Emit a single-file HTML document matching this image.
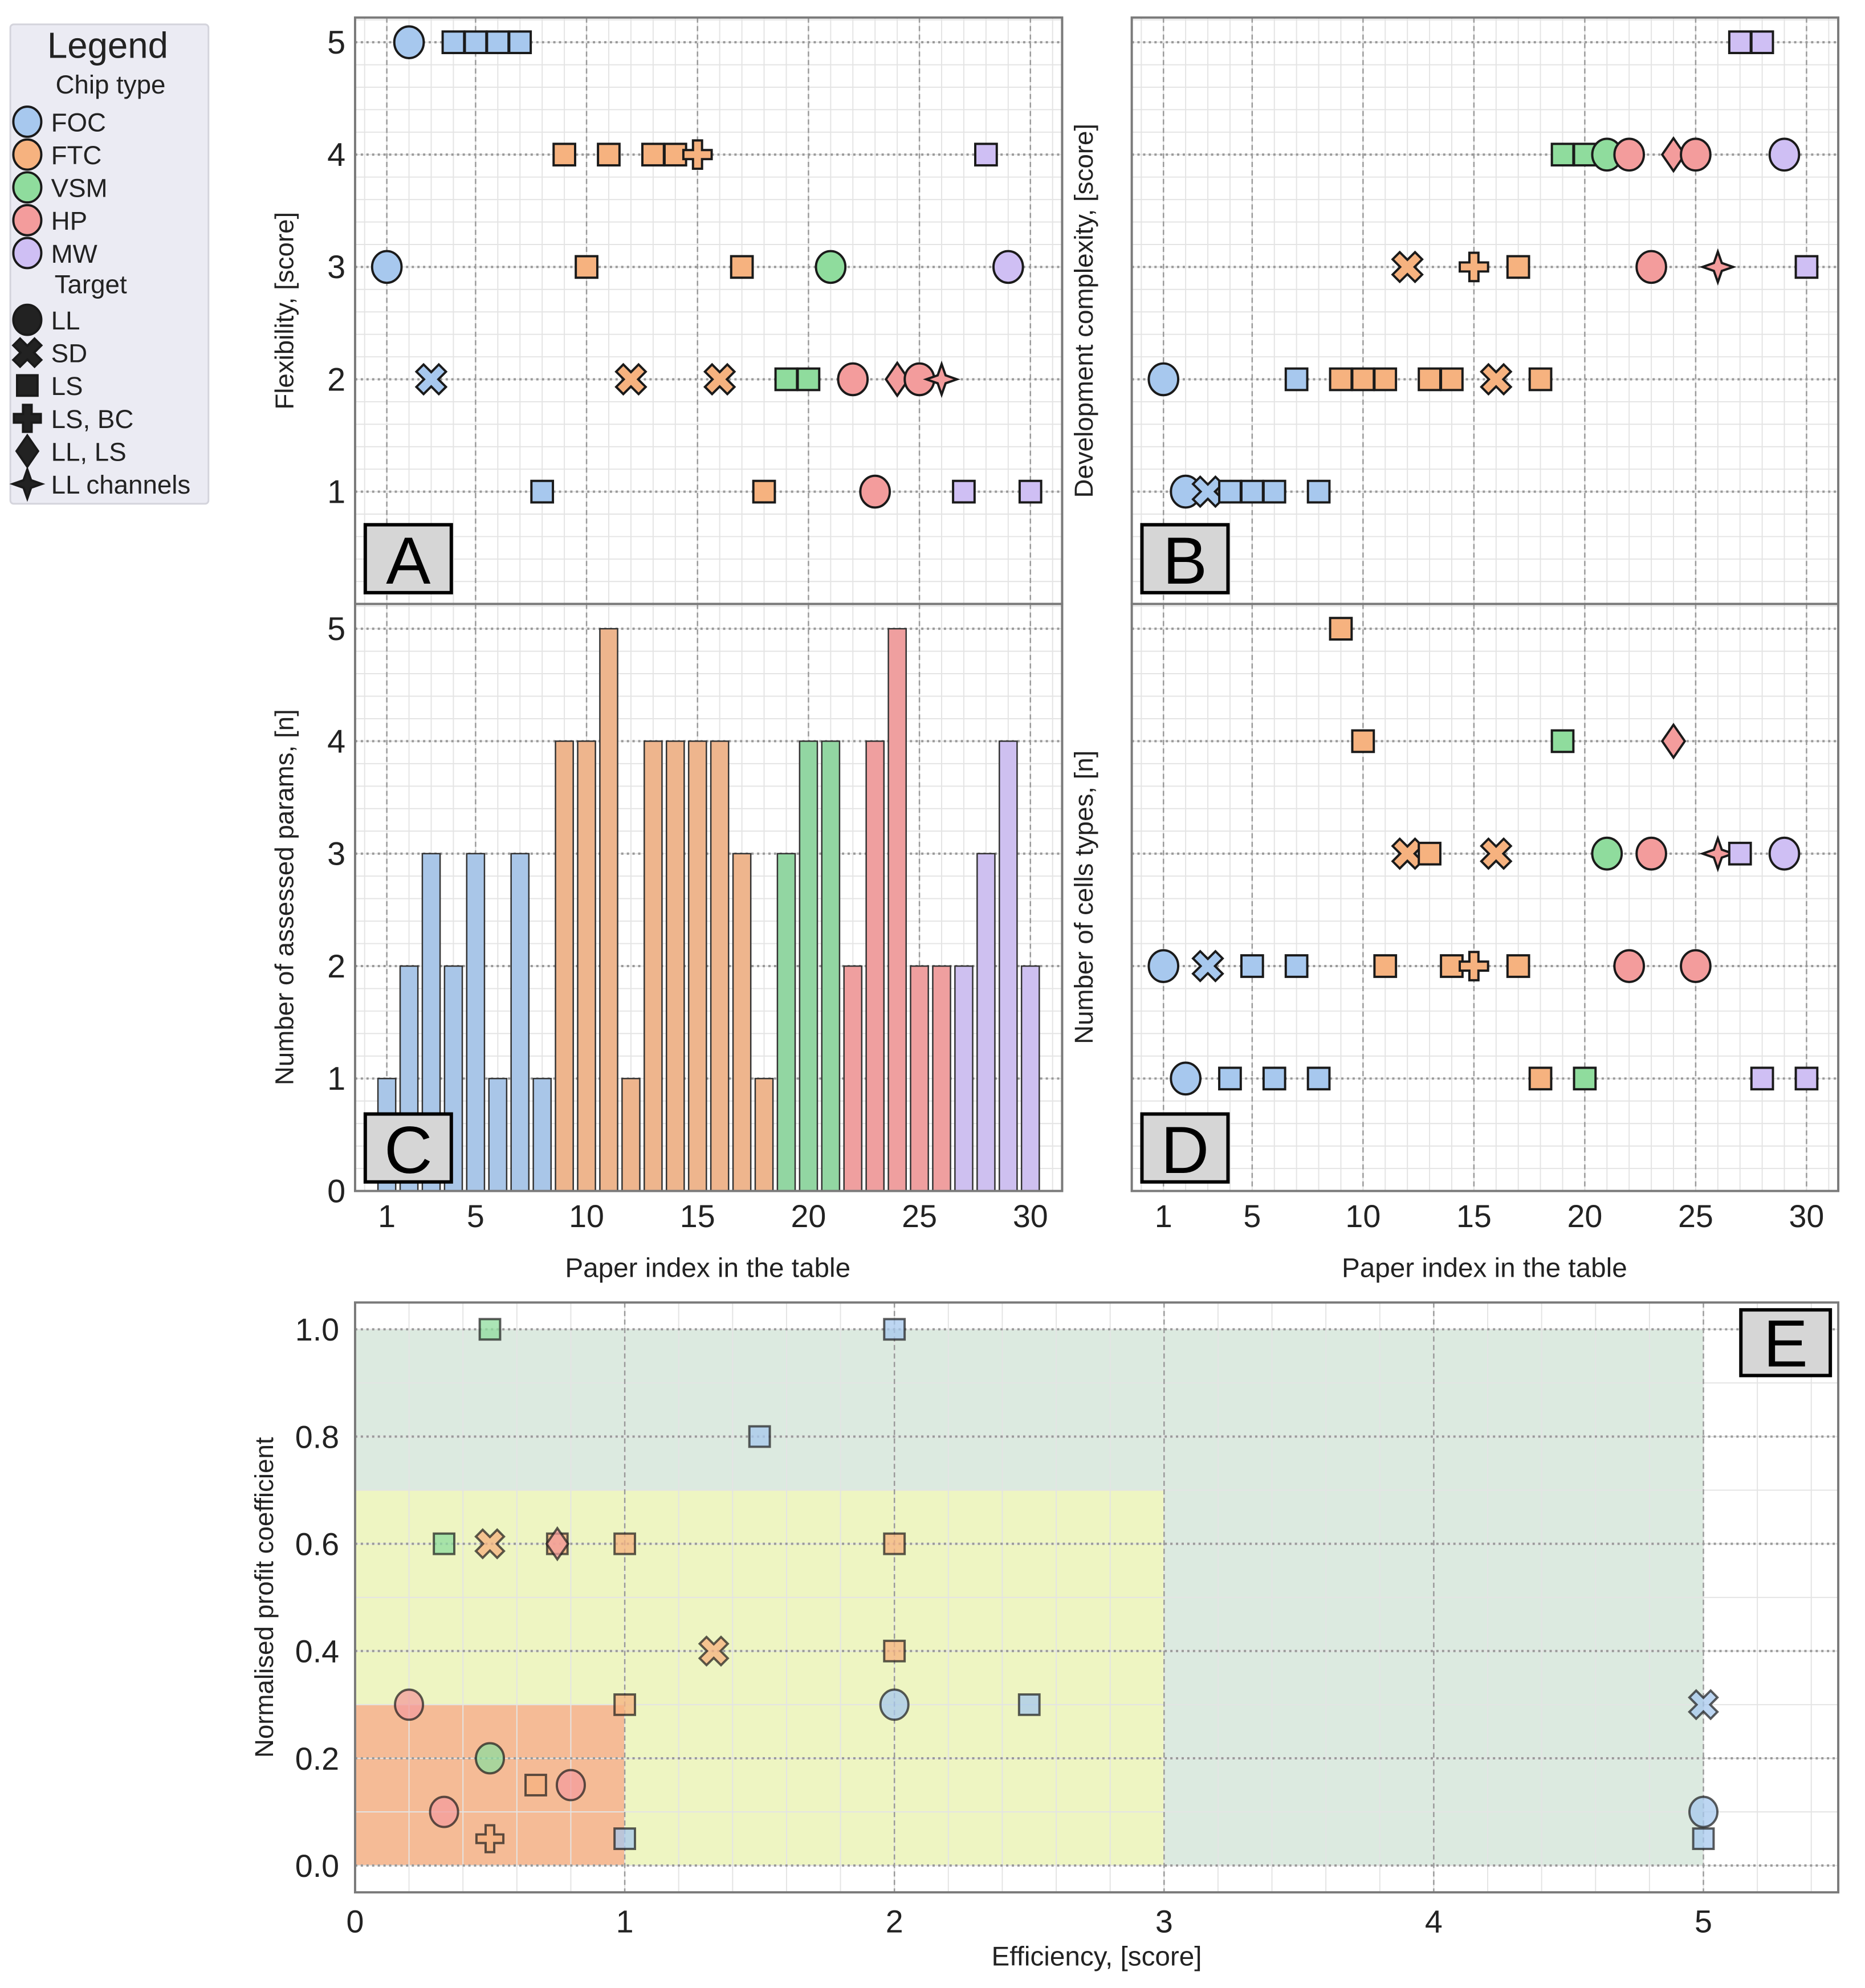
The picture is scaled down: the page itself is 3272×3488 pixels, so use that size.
<!DOCTYPE html>
<html><head><meta charset="utf-8"><style>
html,body{margin:0;padding:0;background:#fff}
svg{display:block;font-family:"Liberation Sans",Arial,sans-serif}
</style></head><body>
<svg id="fig" width="3272" height="3488" viewBox="0 0 3294 3512" xmlns="http://www.w3.org/2000/svg"></svg>
<script>
// ---------- data ----------
const paperIndex = [1,2,3,4,5,6,7,8,9,10,11,12,13,14,15,16,17,18,19,20,21,22,23,24,25,26,27,28,29,30];
const chipType = ["FOC","FOC","FOC","FOC","FOC","FOC","FOC","FOC","FTC","FTC","FTC","FTC","FTC","FTC","FTC","FTC","FTC","FTC","VSM","VSM","VSM","HP","HP","HP","HP","HP","MW","MW","MW","MW"];
const target = ["LL","LL","SD","LS","LS","LS","LS","LS","LS","LS","LS","SD","LS","LS","LSBC","SD","LS","LS","LS","LS","LL","LL","LL","LLLS","LL","LLCH","LS","LS","LL","LS"];
const flexibility = [3,5,2,5,5,5,5,1,4,3,4,2,4,4,4,2,3,1,2,2,3,2,1,2,2,2,1,4,3,1];
const complexity = [2,1,1,1,1,1,2,1,2,2,2,3,2,2,3,2,3,2,4,4,4,4,3,4,4,3,5,5,4,3];
const assessedParams = [1,2,3,2,3,1,3,1,4,4,5,1,4,4,4,4,3,1,3,4,4,2,4,5,2,2,2,3,4,2];
const cellTypes = [2,1,2,1,2,1,2,1,5,4,2,3,3,2,2,3,2,1,4,1,3,2,3,4,2,3,3,1,3,1];
const effX = [0.5,2,1.5,0.33,0.5,0.75,0.75,1,2,1.33,2,0.2,1,2,2.5,5,0.5,0.67,0.8,0.33,0.5,1,5,5];
const effY = [1.0,1.0,0.8,0.6,0.6,0.6,0.6,0.6,0.6,0.4,0.4,0.3,0.3,0.3,0.3,0.3,0.2,0.15,0.15,0.1,0.05,0.05,0.1,0.05];
const effChip = ["VSM","FOC","FOC","VSM","FTC","FTC","HP","FTC","FTC","FTC","FTC","HP","FTC","FOC","FOC","FOC","VSM","FTC","HP","HP","FTC","FOC","FOC","FOC"];
const effTarget = ["LS","LS","LS","LS","SD","LS","LLLS","LS","LS","SD","LS","LL","LS","LL","LS","SD","LL","LS","LL","LL","LSBC","LS","LL","LS"];
const xTicks = [1,5,10,15,20,25,30];
const yTicks = [0,1,2,3,4,5];
const eXTicks = [0,1,2,3,4,5];
const eYTicks = [0.0,0.2,0.4,0.6,0.8,1.0];

const COL = {FOC:"#a7c8ee",FTC:"#f6b27f",VSM:"#8fdc9d",HP:"#f39c9c",MW:"#cfbff4"};
const BARCOL = {FOC:"#a9c6e8",FTC:"#eeb58d",VSM:"#92d6a2",HP:"#ef9f9f",MW:"#cec0f0"};
const NS="http://www.w3.org/2000/svg";
const svg=document.getElementById('fig');
function el(tag,attrs,parent){const e=document.createElementNS(NS,tag);for(const k in attrs)e.setAttribute(k,attrs[k]);(parent||svg).appendChild(e);return e;}

function marker(g,type,cx,cy,fill,op,sc){
  sc=sc||1;let e;
  const st={fill:fill,stroke:"#1a1a1a","stroke-width":4,"fill-opacity":op};
  if(type==="LL"){e=el('ellipse',Object.assign({cx:cx,cy:cy,rx:26*sc,ry:28*sc},st),g);}
  else if(type==="LS"){const s=19*sc;e=el('rect',Object.assign({x:cx-s,y:cy-s,width:2*s,height:2*s},st),g);}
  else if(type==="SD"||type==="LSBC"){
    const a=25*sc,w=8*sc;
    const base=[[-w,-a],[w,-a],[w,-w],[a,-w],[a,w],[w,w],[w,a],[-w,a],[-w,w],[-a,w],[-a,-w],[-w,-w]];
    const rot=type==="SD"?Math.PI/4:0;
    const sc2=type==="SD"?1.12:1;
    const pts=base.map(p=>{const x=p[0]*sc2,y=p[1]*sc2;return [(cx+x*Math.cos(rot)-y*Math.sin(rot)).toFixed(1),(cy+x*Math.sin(rot)+y*Math.cos(rot)).toFixed(1)].join(',');});
    e=el('polygon',Object.assign({points:pts.join(' ')},st),g);
  }
  else if(type==="LLLS"){const w=20*sc,h=29*sc;e=el('polygon',Object.assign({points:`${cx},${cy-h} ${cx+w},${cy} ${cx},${cy+h} ${cx-w},${cy}`},st),g);}
  else if(type==="LLCH"){const a=27*sc,b=7*sc;e=el('polygon',Object.assign({points:`${cx},${cy-a} ${cx+b},${cy-b} ${cx+a},${cy} ${cx+b},${cy+b} ${cx},${cy+a} ${cx-b},${cy+b} ${cx-a},${cy} ${cx-b},${cy-b}`},st),g);}
  return e;
}

function panel(name,L,R,T,B,xmin,xmax,ymin,ymax,opts){
  const g=el('g',{});
  
  
  const X=v=>L+(v-xmin)/(xmax-xmin)*(R-L);
  const Y=v=>B-(v-ymin)/(ymax-ymin)*(B-T);
  el('rect',{x:L,y:T,width:R-L,height:B-T,fill:"#fff"},g);
  if(opts.bg)opts.bg(g,X,Y);
  for(let v=opts.mxStart;v<=xmax+1e-9;v+=opts.mxStep){if(v<xmin)continue;el('line',{x1:X(v),x2:X(v),y1:T,y2:B,stroke:"#e4e4e4","stroke-width":2},g);}
  for(let v=opts.myStart;v<=ymax+1e-9;v+=opts.myStep){if(v<ymin)continue;el('line',{x1:L,x2:R,y1:Y(v),y2:Y(v),stroke:"#e4e4e4","stroke-width":2},g);}
  opts.xt.forEach(v=>el('line',{x1:X(v),x2:X(v),y1:T,y2:B,stroke:"#9a9a9a","stroke-width":2.5,"stroke-dasharray":"9,6"},g));
  opts.yt.forEach(v=>el('line',{x1:L,x2:R,y1:Y(v),y2:Y(v),stroke:"#9a9a9a","stroke-width":4,"stroke-dasharray":"4,6"},g));
  return {g,X,Y};
}
function frame(g,L,R,T,B){el('rect',{x:L,y:T,width:R-L,height:B-T,fill:"none",stroke:"#7a7a7a","stroke-width":4},g);}
function letterBox(L,T,W,H,txt,name){
  const g=el('g',{});
  
  
  el('rect',{x:L,y:T,width:W,height:H,fill:"#d6d6d6",stroke:"#000","stroke-width":6},g);
  const t=el('text',{x:L+W/2,y:T+H-16,"text-anchor":"middle","font-size":118,fill:"#000"},g);t.textContent=txt;
}
function txt(x,y,s,size,anchor,rot,name){
  const t=el('text',{x:x,y:y,"font-size":size,"text-anchor":anchor||"middle",fill:"#222"});
  if(rot)t.setAttribute('transform',`rotate(${rot} ${x} ${y})`);
  t.textContent=s;
  
  
  return t;
}

const xmin=-0.43,xmax=31.43,ymin=0,ymax=5.22;
const AL=627,AR=1876,BL=1999,BR=3247,T1=31,B1=1067,T2=1067,B2=2104;
const gridOpts={mxStart:0,mxStep:1,myStart:0,myStep:0.2,xt:xTicks,yt:[1,2,3,4,5]};

let p=panel('panel-a-flexibility',AL,AR,T1,B1,xmin,xmax,ymin,ymax,gridOpts);
paperIndex.forEach((k,i)=>{const m=marker(p.g,target[i],p.X(k),p.Y(flexibility[i]),COL[chipType[i]],1);
  
  });
frame(p.g,AL,AR,T1,B1);
p=panel('panel-b-complexity',BL,BR,T1,B1,xmin,xmax,ymin,ymax,gridOpts);
paperIndex.forEach((k,i)=>{const m=marker(p.g,target[i],p.X(k),p.Y(complexity[i]),COL[chipType[i]],1);
  
  });
frame(p.g,BL,BR,T1,B1);
p=panel('panel-c-assessed-params',AL,AR,T2,B2,xmin,xmax,ymin,ymax,gridOpts);
paperIndex.forEach((k,i)=>{const x0=p.X(k-0.4),x1=p.X(k+0.4);const b=el('rect',{x:x0,y:p.Y(assessedParams[i]),width:x1-x0,height:p.Y(0)-p.Y(assessedParams[i]),fill:BARCOL[chipType[i]],stroke:"#333","stroke-width":2.5},p.g);
  
  });
frame(p.g,AL,AR,T2,B2);
p=panel('panel-d-cell-types',BL,BR,T2,B2,xmin,xmax,ymin,ymax,gridOpts);
paperIndex.forEach((k,i)=>{const m=marker(p.g,target[i],p.X(k),p.Y(cellTypes[i]),COL[chipType[i]],1);
  
  });
frame(p.g,BL,BR,T2,B2);

[[T1,B1],[T2,B2]].forEach(([T,B],r)=>{
  const Y=v=>B-(v-ymin)/(ymax-ymin)*(B-T);
  yTicks.forEach(v=>{if(r===0&&v===0)return;txt(594,Y(v)+20,String(v),58,"middle",0,'y-tick-'+v);});
});
[[AL,AR],[BL,BR]].forEach(([L,R])=>{
  const X=v=>L+(v-xmin)/(xmax-xmin)*(R-L);
  xTicks.forEach(v=>txt(X(v),2168,String(v),56,"middle",0,'x-tick-'+v));
});
txt(1250,2256,"Paper index in the table",48,"middle",0,'x-axis-title-c');
txt(2622,2256,"Paper index in the table",48,"middle",0,'x-axis-title-d');
txt(518,549,"Flexibility, [score]",46,"middle",-90,'y-axis-title-a');
txt(1930,549,"Development complexity, [score]",46,"middle",-90,'y-axis-title-b');
txt(518,1585,"Number of assessed params, [n]",46,"middle",-90,'y-axis-title-c');
txt(1930,1585,"Number of cells types, [n]",46,"middle",-90,'y-axis-title-d');
letterBox(645,927,152,120,"A",'panel-label-a');
letterBox(2017,927,152,120,"B",'panel-label-b');
letterBox(645,1968,152,120,"C",'panel-label-c');
letterBox(2017,1968,152,120,"D",'panel-label-d');

const EL=627,ER=3247,ET=2301,EB=3343;
p=panel('panel-e-efficiency',EL,ER,ET,EB,0,5.5,-0.05,1.05,{mxStart:0,mxStep:0.2,myStart:0,myStep:0.1,xt:[1,2,3,4,5],yt:eYTicks,
  bg:(g,X,Y)=>{
    el('rect',{x:X(0),y:Y(1.0),width:X(5)-X(0),height:Y(0)-Y(1.0),fill:"#dceae0"},g);
    el('rect',{x:X(0),y:Y(0.7),width:X(3)-X(0),height:Y(0)-Y(0.7),fill:"#eef5c2"},g);
    el('rect',{x:X(0),y:Y(0.3),width:X(1)-X(0),height:Y(0)-Y(0.3),fill:"#f5bb96"},g);
  }});
effX.forEach((v,i)=>{const m=marker(p.g,effTarget[i],p.X(v),p.Y(effY[i]),COL[effChip[i]],0.75,0.95);
  m.setAttribute('stroke-opacity','0.7');
  
  });
frame(p.g,EL,ER,ET,EB);
eXTicks.forEach(v=>txt(p.X(v),3414,String(v),56,"middle",0,'e-x-tick-'+v));
eYTicks.forEach(v=>txt(560,p.Y(v)+20,v.toFixed(1),56,"middle",0,'e-y-tick-'+v));
txt(1937,3472,"Efficiency, [score]",48,"middle",0,'x-axis-title-e');
txt(482,2822,"Normalised profit coefficient",46,"middle",-90,'y-axis-title-e');
letterBox(3075,2314,158,116,"E",'panel-label-e');

const lg=el('g',{});


el('rect',{x:18,y:43,width:350,height:847,fill:"#ebebf3",stroke:"#d4d4dc","stroke-width":3,rx:6},lg);
let t=el('text',{x:190,y:102,"text-anchor":"middle","font-size":64,fill:"#222"},lg);t.textContent="Legend";
t=el('text',{x:195,y:165,"text-anchor":"middle","font-size":46,fill:"#222"},lg);t.textContent="Chip type";
const chips=["FOC","FTC","VSM","HP","MW"];
chips.forEach((c,i)=>{const y=215+i*58;const m=marker(lg,"LL",48,y,COL[c],1,0.95);
  
  
  const tt=el('text',{x:90,y:y+17,"font-size":46,fill:"#222"},lg);tt.textContent=c;});
t=el('text',{x:160,y:518,"text-anchor":"middle","font-size":46,fill:"#222"},lg);t.textContent="Target";
const tg=[["LL","LL"],["SD","SD"],["LS","LS"],["LSBC","LS, BC"],["LLLS","LL, LS"],["LLCH","LL channels"]];
tg.forEach((p2,i)=>{const y=565+i*58;const m=marker(lg,p2[0],48,y,"#222",1,0.95);
  
  
  const tt=el('text',{x:90,y:y+17,"font-size":46,fill:"#222"},lg);tt.textContent=p2[1];});
</script>
</body></html>
